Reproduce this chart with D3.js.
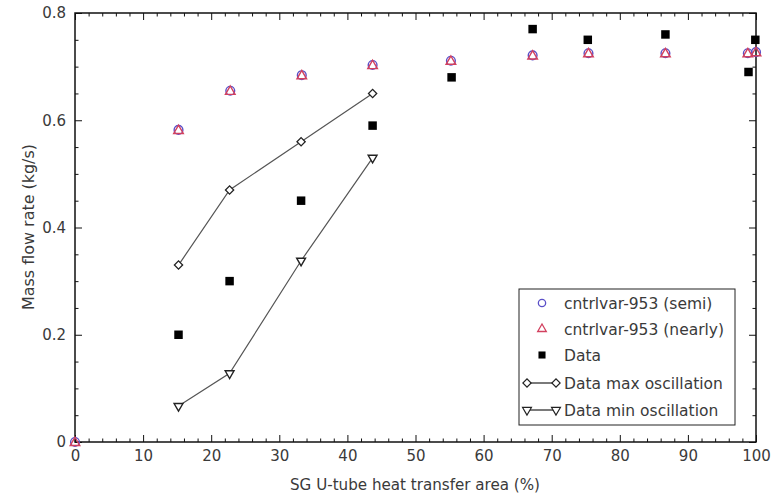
<!DOCTYPE html>
<html>
<head>
<meta charset="utf-8">
<script src="https://cdn.jsdelivr.net/npm/d3@7"></script>
<style>
  html, body { margin: 0; padding: 0; background: #fff; }
  svg { display: block; font-family: "DejaVu Sans", Verdana, sans-serif; }
</style>
</head>
<body>
<svg id="chart" width="784" height="496"></svg>
<script>
// SG U-tube heat transfer area (%) for the simulation runs
const simArea   = [0, 15.2, 22.8, 33.3, 43.7, 55.2, 67.2, 75.4, 86.7, 98.8, 100];
const simSemi   = [0, 0.582, 0.655, 0.684, 0.703, 0.711, 0.721, 0.725, 0.725, 0.725, 0.727];
const simNearly = [0, 0.582, 0.655, 0.684, 0.703, 0.711, 0.721, 0.725, 0.725, 0.725, 0.727];

// Measured data
const dataArea  = [15.2, 22.7, 33.2, 43.7, 55.3, 67.2, 75.3, 86.7, 98.9, 99.9];
const dataFlow  = [0.20, 0.30, 0.45, 0.59, 0.68, 0.77, 0.75, 0.76, 0.69, 0.75];

// Oscillation envelope of the measured data
const oscArea   = [15.2, 22.7, 33.2, 43.7];
const oscMax    = [0.33, 0.47, 0.56, 0.65];
const oscMin    = [0.067, 0.128, 0.338, 0.53];

const xTicks = [0, 10, 20, 30, 40, 50, 60, 70, 80, 90, 100];
const yTicks = [0, 0.2, 0.4, 0.6, 0.8];

const legendLabels = [
  "cntrlvar-953 (semi)",
  "cntrlvar-953 (nearly)",
  "Data",
  "Data max oscillation",
  "Data min oscillation"
];

const svg = d3.select("#chart");
const m = { left: 75, right: 28, top: 13, bottom: 54 };
const W = 784, H = 496;
const x = d3.scaleLinear().domain([0, 100]).range([m.left, W - m.right]);
const y = d3.scaleLinear().domain([0, 0.8]).range([H - m.bottom, m.top]);

const textColor = "#3a3a3a";
const blue = "#5a4fc8";
const red = "#d2415f";
const gray = "#555";

// inward ticks on all four sides
function tickAxis(axisFn, scale, major, minorStep, g, labels) {
  const [d0, d1] = scale.domain();
  const minor = d3.range(d0, d1 + 1e-9, minorStep).filter(v => !major.some(t => Math.abs(t - v) < 1e-9));
  g.append("g").call(axisFn(scale).tickValues(minor).tickSize(-3.5).tickFormat(""));
  const maj = g.append("g").call(axisFn(scale).tickValues(major).tickSize(-7).tickPadding(8)
    .tickFormat(labels ? (d => d3.format("~g")(d)) : ""));
  return maj;
}

const gx = svg.append("g").attr("transform", `translate(0,${y(0)})`);
tickAxis(d3.axisBottom, x, xTicks, 2, gx, true);
const gxt = svg.append("g").attr("transform", `translate(0,${y(0.8)})`);
tickAxis(d3.axisTop, x, xTicks, 2, gxt, false);
const gy = svg.append("g").attr("transform", `translate(${x(0)},0)`);
tickAxis(d3.axisLeft, y, yTicks, 0.05, gy, true);
const gyr = svg.append("g").attr("transform", `translate(${x(100)},0)`);
tickAxis(d3.axisRight, y, yTicks, 0.05, gyr, false);

svg.selectAll(".domain").remove();
svg.selectAll(".tick line").attr("stroke", "#111").attr("stroke-width", 1);
svg.selectAll(".tick text").attr("fill", textColor).style("font-size", "15px")
  .style("font-family", "DejaVu Sans, sans-serif");
gy.selectAll(".tick text").attr("dx", "-1");

// frame
svg.append("rect")
  .attr("x", x(0)).attr("y", y(0.8))
  .attr("width", x(100) - x(0)).attr("height", y(0) - y(0.8))
  .attr("fill", "none").attr("stroke", "#111").attr("stroke-width", 1.5);

// axis titles
svg.append("text")
  .attr("x", 415).attr("y", 490)
  .attr("text-anchor", "middle").attr("fill", textColor).style("font-size", "15px")
  .attr("textLength", 250).attr("lengthAdjust", "spacingAndGlyphs")
  .text("SG U-tube heat transfer area (%)");
svg.append("text")
  .attr("transform", `translate(34,227) rotate(-90)`)
  .attr("text-anchor", "middle").attr("fill", textColor).style("font-size", "16px")
  .attr("textLength", 166).attr("lengthAdjust", "spacingAndGlyphs")
  .text("Mass flow rate (kg/s)");

const sym = {
  circle: d3.symbol().type(d3.symbolCircle).size(60),
  triUp: d3.symbol().type(d3.symbolTriangle).size(40),
  square: d3.symbol().type(d3.symbolSquare).size(72),
  diamond: d3.symbol().type(d3.symbolSquare).size(34),
  triDown: d3.symbol().type(d3.symbolTriangle).size(34)
};

const line = d3.line().x(d => x(d[0])).y(d => y(d[1]));

// oscillation envelope lines
[oscMax, oscMin].forEach(vals => {
  svg.append("path")
    .datum(oscArea.map((a, i) => [a, vals[i]]))
    .attr("d", line).attr("fill", "none").attr("stroke", gray).attr("stroke-width", 1.2);
});

// max oscillation markers (diamonds)
svg.append("g").selectAll("path").data(oscArea.map((a, i) => [a, oscMax[i]])).join("path")
  .attr("d", sym.diamond).attr("transform", d => `translate(${x(d[0])},${y(d[1])}) rotate(45)`)
  .attr("fill", "#fff").attr("stroke", "#222").attr("stroke-width", 1.3);

// min oscillation markers (down triangles)
svg.append("g").selectAll("path").data(oscArea.map((a, i) => [a, oscMin[i]])).join("path")
  .attr("d", sym.triDown).attr("transform", d => `translate(${x(d[0])},${y(d[1])}) rotate(180)`)
  .attr("fill", "#fff").attr("stroke", "#222").attr("stroke-width", 1.4);

// measured data (filled squares)
svg.append("g").selectAll("path").data(dataArea.map((a, i) => [a, dataFlow[i]])).join("path")
  .attr("d", sym.square).attr("transform", d => `translate(${x(d[0])},${y(d[1])})`)
  .attr("fill", "#000");

// simulation: semi (circles)
svg.append("g").selectAll("path").data(simArea.map((a, i) => [a, simSemi[i]])).join("path")
  .attr("d", sym.circle).attr("transform", d => `translate(${x(d[0])},${y(d[1])})`)
  .attr("fill", "none").attr("stroke", blue).attr("stroke-width", 1.4);

// simulation: nearly (up triangles)
svg.append("g").selectAll("path").data(simArea.map((a, i) => [a, simNearly[i]])).join("path")
  .attr("d", sym.triUp).attr("transform", d => `translate(${x(d[0])},${y(d[1]) + 0.8})`)
  .attr("fill", "none").attr("stroke", red).attr("stroke-width", 1.4);

// legend
const lg = svg.append("g").attr("transform", "translate(519,289)");
lg.append("rect").attr("width", 216).attr("height", 136)
  .attr("fill", "#fff").attr("stroke", "#222").attr("stroke-width", 1);
const rowY = [14, 40, 66, 94, 121];
const textX = 45, symX = 23;
legendLabels.forEach((lab, i) => {
  lg.append("text").attr("x", textX).attr("y", rowY[i] + 5.5)
    .attr("fill", textColor).style("font-size", "15.5px").text(lab);
});
lg.append("path").attr("d", d3.symbol().type(d3.symbolCircle).size(42)).attr("transform", `translate(${symX},${rowY[0]})`)
  .attr("fill", "none").attr("stroke", blue).attr("stroke-width", 1.3);
lg.append("path").attr("d", d3.symbol().type(d3.symbolTriangle).size(32)).attr("transform", `translate(${symX},${rowY[1]})`)
  .attr("fill", "none").attr("stroke", red).attr("stroke-width", 1.3);
lg.append("path").attr("d", d3.symbol().type(d3.symbolSquare).size(50)).attr("transform", `translate(${symX},${rowY[2]})`)
  .attr("fill", "#000");
[[rowY[3], sym.diamond, 45], [rowY[4], sym.triDown, 180]].forEach(([ry, s, rot]) => {
  lg.append("line").attr("x1", 8).attr("x2", 37).attr("y1", ry).attr("y2", ry)
    .attr("stroke", "#222").attr("stroke-width", 1.2);
  [8, 37].forEach(px => {
    lg.append("path").attr("d", s).attr("transform", `translate(${px},${ry}) rotate(${rot})`)
      .attr("fill", "#fff").attr("stroke", "#222").attr("stroke-width", 1.2);
  });
});
</script>
</body>
</html>
